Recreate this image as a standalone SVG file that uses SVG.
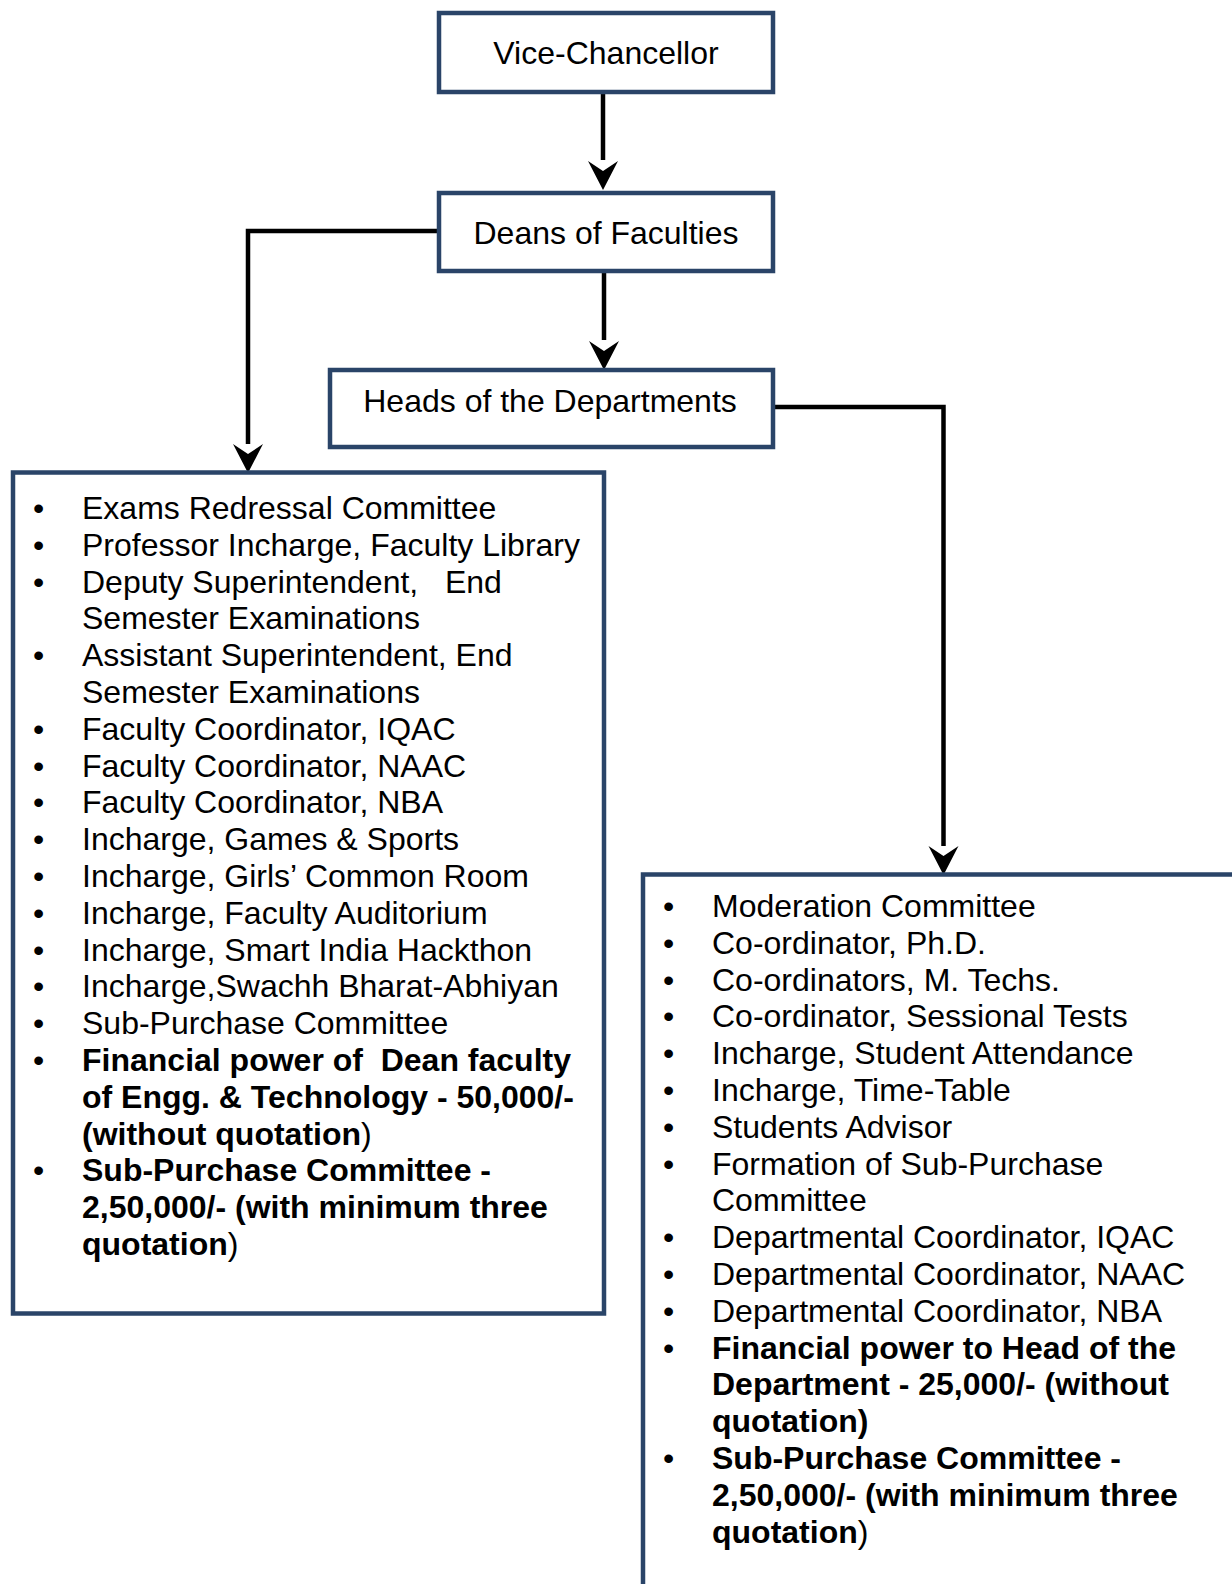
<svg xmlns="http://www.w3.org/2000/svg" width="1232" height="1584" viewBox="0 0 1232 1584" xml:space="preserve">
<defs>
<style>
.box{fill:#ffffff;stroke:#2A4468;stroke-width:4.5}
.t{font-family:"Liberation Sans",Arial,sans-serif;font-size:32px;fill:#000;white-space:pre}
.c{text-anchor:middle}
.b{font-weight:bold}
.n{font-weight:normal}
.ln{fill:none;stroke:#000;stroke-width:4.5}
</style>
</defs>
<rect width="1232" height="1584" fill="#fff"/>
<g id="connectors">
<line class="ln" x1="603" y1="92" x2="603" y2="160"/>
<path d="M603,190 L588,161 L603,171 L618,161 Z" fill="#000"/>
<line class="ln" x1="604" y1="271" x2="604" y2="340"/>
<path d="M604,370 L589,341 L604,351 L619,341 Z" fill="#000"/>
<polyline class="ln" points="439,231 248,231 248,444"/>
<path d="M248,473 L233,444 L248,454 L263,444 Z" fill="#000"/>
<polyline class="ln" points="773,407 943.5,407 943.5,846"/>
<path d="M943.5,875 L928.5,846 L943.5,856 L958.5,846 Z" fill="#000"/>
</g>
<g id="vice-chancellor">
<rect class="box" x="439" y="13" width="334" height="79"/>
<text class="t c" x="606" y="64">Vice-Chancellor</text>
</g>
<g id="deans">
<rect class="box" x="439" y="193" width="334" height="78"/>
<text class="t c" x="606" y="244">Deans of Faculties</text>
</g>
<g id="heads">
<rect class="box" x="330" y="370" width="443" height="77"/>
<text class="t c" x="550" y="412">Heads of the Departments</text>
</g>
<g id="dean-duties">
<rect class="box" x="13" y="472.5" width="591" height="841"/>
<g class="t c">
<text x="38.5" y="519">•</text>
<text x="38.5" y="555.8">•</text>
<text x="38.5" y="592.6">•</text>
<text x="38.5" y="666.2">•</text>
<text x="38.5" y="739.8">•</text>
<text x="38.5" y="776.6">•</text>
<text x="38.5" y="813.4">•</text>
<text x="38.5" y="850.2">•</text>
<text x="38.5" y="887">•</text>
<text x="38.5" y="923.8">•</text>
<text x="38.5" y="960.6">•</text>
<text x="38.5" y="997.4">•</text>
<text x="38.5" y="1034.2">•</text>
<text x="38.5" y="1071">•</text>
<text x="38.5" y="1181.4">•</text>
</g>
<g class="t">
<text x="82" y="519">Exams Redressal Committee</text>
<text x="82" y="555.8">Professor Incharge, Faculty Library</text>
<text x="82" y="592.6">Deputy Superintendent,&#160;&#160; End</text>
<text x="82" y="629.4">Semester Examinations</text>
<text x="82" y="666.2">Assistant Superintendent, End</text>
<text x="82" y="703">Semester Examinations</text>
<text x="82" y="739.8">Faculty Coordinator, IQAC</text>
<text x="82" y="776.6">Faculty Coordinator, NAAC</text>
<text x="82" y="813.4">Faculty Coordinator, NBA</text>
<text x="82" y="850.2">Incharge, Games &amp; Sports</text>
<text x="82" y="887">Incharge, Girls’ Common Room</text>
<text x="82" y="923.8">Incharge, Faculty Auditorium</text>
<text x="82" y="960.6">Incharge, Smart India Hackthon</text>
<text x="82" y="997.4">Incharge,Swachh Bharat-Abhiyan</text>
<text x="82" y="1034.2">Sub-Purchase Committee</text>
<text class="b" x="82" y="1071">Financial power of&#160; Dean faculty</text>
<text class="b" x="82" y="1107.8">of Engg. &amp; Technology - 50,000/-</text>
<text class="b" x="82" y="1144.6">(without quotation<tspan class="n">)</tspan></text>
<text class="b" x="82" y="1181.4">Sub-Purchase Committee -</text>
<text class="b" x="82" y="1218.2">2,50,000/- (with minimum three</text>
<text class="b" x="82" y="1255">quotation<tspan class="n">)</tspan></text>
</g>
</g>
<g id="hod-duties">
<rect class="box" x="643" y="874.5" width="600" height="740"/>
<g class="t c">
<text x="668.5" y="917">•</text>
<text x="668.5" y="953.8">•</text>
<text x="668.5" y="990.6">•</text>
<text x="668.5" y="1027.4">•</text>
<text x="668.5" y="1064.2">•</text>
<text x="668.5" y="1101">•</text>
<text x="668.5" y="1137.8">•</text>
<text x="668.5" y="1174.6">•</text>
<text x="668.5" y="1248.2">•</text>
<text x="668.5" y="1285">•</text>
<text x="668.5" y="1321.8">•</text>
<text x="668.5" y="1358.6">•</text>
<text x="668.5" y="1469">•</text>
</g>
<g class="t">
<text x="712" y="917">Moderation Committee</text>
<text x="712" y="953.8">Co-ordinator, Ph.D.</text>
<text x="712" y="990.6">Co-ordinators, M. Techs.</text>
<text x="712" y="1027.4">Co-ordinator, Sessional Tests</text>
<text x="712" y="1064.2">Incharge, Student Attendance</text>
<text x="712" y="1101">Incharge, Time-Table</text>
<text x="712" y="1137.8">Students Advisor</text>
<text x="712" y="1174.6">Formation of Sub-Purchase</text>
<text x="712" y="1211.4">Committee</text>
<text x="712" y="1248.2">Departmental Coordinator, IQAC</text>
<text x="712" y="1285">Departmental Coordinator, NAAC</text>
<text x="712" y="1321.8">Departmental Coordinator, NBA</text>
<text class="b" x="712" y="1358.6">Financial power to Head of the</text>
<text class="b" x="712" y="1395.4">Department - 25,000/- (without</text>
<text class="b" x="712" y="1432.2">quotation)</text>
<text class="b" x="712" y="1469">Sub-Purchase Committee -</text>
<text class="b" x="712" y="1505.8">2,50,000/- (with minimum three</text>
<text class="b" x="712" y="1542.6">quotation<tspan class="n">)</tspan></text>
</g>
</g>
</svg>
